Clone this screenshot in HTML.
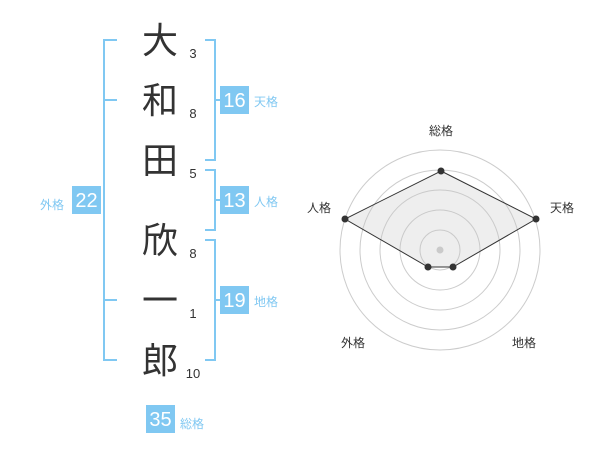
<!DOCTYPE html>
<html><head><meta charset="utf-8"><style>
body{margin:0;background:#fff;width:600px;height:470px;overflow:hidden;font-family:"Liberation Sans","Noto Sans CJK JP",sans-serif}
</style></head><body>
<svg width="600" height="470" xmlns="http://www.w3.org/2000/svg" style="position:absolute;left:0;top:0">
<g stroke="#80c8f2" stroke-width="2" fill="none">
<path d="M117 40H104V360H117M104 100H117M104 300H117"/>
<path d="M205 40H215V160H205M215 100H222"/>
<path d="M205 170H215V230H205M215 200H222"/>
<path d="M205 240H215V360H205M215 300H222"/>
</g>
<g fill="#80c8f2">
<rect x="72" y="186" width="29" height="28"/>
<rect x="220" y="86" width="29" height="28"/>
<rect x="220" y="186" width="29" height="28"/>
<rect x="220" y="286" width="29" height="28"/>
<rect x="146" y="405" width="29" height="28"/>
</g>
<g fill="#fff" font-size="20" text-anchor="middle">
<text x="86.5" y="207">22</text><text x="234.5" y="107">16</text><text x="234.5" y="207">13</text><text x="234.5" y="307">19</text><text x="160.5" y="426">35</text>
</g>
<g fill="#80c8f2" font-size="12">
<text x="40" y="209">外格</text><text x="254" y="106">天格</text><text x="254" y="206">人格</text><text x="254" y="306">地格</text><text x="180" y="428">総格</text>
</g>
<g fill="#333" font-size="36" text-anchor="middle">
<text x="160" y="53">大</text><text x="160" y="113">和</text><text x="160" y="173">田</text><text x="160" y="253">欣</text><text x="160" y="313">一</text><text x="160" y="373">郎</text>
</g>
<g fill="#333" font-size="13" text-anchor="middle">
<text x="193" y="58">3</text><text x="193" y="118">8</text><text x="193" y="178">5</text><text x="193" y="258">8</text><text x="193" y="318">1</text><text x="193" y="378">10</text>
</g>
<g stroke="#ccc" fill="none">
<circle cx="440" cy="250" r="100"/><circle cx="440" cy="250" r="80"/><circle cx="440" cy="250" r="60"/><circle cx="440" cy="250" r="40"/><circle cx="440" cy="250" r="20"/>
</g>
<circle cx="440" cy="250" r="3.5" fill="#ccc"/>
<polygon points="441,171 536,219 453,267 428,267 345,219" fill="rgba(200,200,200,0.3)" stroke="#333" stroke-width="1"/>
<g fill="#333"><circle cx="441" cy="171" r="3.5"/><circle cx="536" cy="219" r="3.5"/><circle cx="453" cy="267" r="3.5"/><circle cx="428" cy="267" r="3.5"/><circle cx="345" cy="219" r="3.5"/></g>
<g fill="#333" font-size="12" text-anchor="middle">
<text x="441" y="135">総格</text><text x="562" y="212">天格</text><text x="524" y="347">地格</text><text x="353" y="347">外格</text><text x="319" y="212">人格</text>
</g>
</svg>
</body></html>
